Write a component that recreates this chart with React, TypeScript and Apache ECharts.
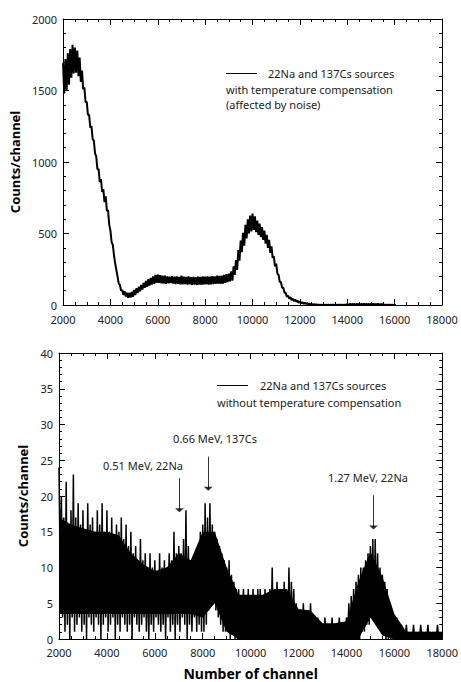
import React, { useEffect, useRef } from "react";
import * as echarts from "echarts";

// Channel sampling
const CH_START = 2000;
const CH_STEP = 100;
const CORE_STEP = 500;

// Upper chart: spectrum with temperature compensation (upper / lower noise envelope)
const TOP_HI = [
  1690, 1720, 1760, 1790, 1820, 1800, 1780, 1730, 1640, 1520,
  1420, 1330, 1250, 1150, 1040, 950, 880, 810, 760, 660,
  520, 420, 290, 200, 140, 105, 95, 85, 85, 92,
  105, 118, 128, 140, 155, 168, 180, 190, 200, 210,
  212, 208, 205, 205, 200, 198, 202, 198, 200, 196,
  205, 198, 196, 200, 195, 197, 195, 198, 196, 200,
  198, 200, 198, 202, 200, 205, 203, 206, 210, 215,
  220, 235, 270, 315, 385, 450, 505, 560, 600, 625,
  640, 620, 590, 570, 545, 520, 490, 455, 410, 340,
  290, 210, 160, 120, 85, 65, 55, 45, 38, 32,
  25, 20, 16, 14, 10, 8, 6, 4, 3, 2,
  2, 3, 2, 2, 3, 2, 2, 3, 2, 3,
  6, 8, 7, 8, 9, 7, 8, 9, 8, 7,
  8, 9, 7, 8, 6, 7, 3, 2, 2, 1,
  1,
];
const TOP_LO = [
  1480, 1500, 1540, 1590, 1620, 1625, 1600, 1560, 1510, 1420,
  1330, 1240, 1160, 1060, 950, 860, 790, 720, 660, 560,
  440, 350, 245, 150, 100, 70, 60, 50, 52, 58,
  70, 84, 95, 108, 120, 128, 135, 142, 148, 155,
  155, 152, 150, 148, 152, 154, 150, 146, 148, 145,
  145, 146, 142, 145, 140, 142, 140, 143, 141, 144,
  145, 143, 145, 146, 148, 150, 148, 150, 155, 160,
  165, 170, 210, 245, 310, 370, 415, 465, 500, 515,
  525, 510, 490, 475, 455, 430, 400, 365, 330, 270,
  220, 160, 120, 85, 58, 45, 35, 28, 22, 16,
  12, 8, 6, 4, 2, 0, 0, 0, 0, 0,
  0, 0, 0, 0, 0, 0, 0, 0, 0, 0,
  0, 2, 3, 2, 3, 3, 2, 3, 3, 2,
  3, 2, 3, 2, 2, 0, 0, 0, 0, 0,
  0,
];

// Lower chart: spectrum without temperature compensation (spike maxima / minima per 100 channels)
const BOT_HI = [
  24, 20, 17, 22, 16, 18, 23, 17, 19, 16,
  18, 15, 19, 16, 17, 15, 18, 16, 19, 15,
  18, 15, 17, 14, 16, 15, 17, 14, 16, 13,
  15, 12, 13, 11, 14, 11, 12, 10, 12, 10,
  11, 9, 12, 10, 11, 10, 12, 11, 15, 12,
  13, 12, 14, 18, 13, 11, 10, 11, 13, 15,
  16, 19, 17, 19, 16, 15, 14, 13, 12, 11,
  10, 11, 9, 8, 7, 7, 6, 7, 6, 7,
  6, 7, 6, 7, 7, 6, 7, 6, 7, 10,
  7, 8, 7, 7, 8, 7, 10, 8, 7, 5,
  4, 4, 5, 4, 4, 5, 3, 3, 3, 2,
  2, 3, 2, 2, 3, 2, 2, 3, 2, 2,
  3, 5, 6, 7, 8, 9, 10, 10, 11, 12,
  13, 14, 14, 12, 10, 9, 8, 7, 5, 4,
  3, 3, 2, 2, 1, 2, 1, 1, 2, 1,
  1, 2, 1, 1, 2, 1, 1, 1, 2, 1,
];
const BOT_LO = [
  9, 3, 1, 2, 0, 3, 1, 2, 3, 1,
  2, 0, 3, 2, 1, 3, 2, 0, 2, 3,
  1, 2, 3, 0, 2, 1, 3, 2, 1, 2,
  0, 3, 2, 1, 2, 3, 1, 0, 2, 1,
  3, 2, 1, 2, 0, 3, 1, 2, 0, 2,
  1, 3, 2, 0, 2, 1, 3, 1, 2, 1,
  1, 2, 4, 5, 6, 4, 3, 2, 1, 1,
  1, 0, 1, 0, 0, 0, 0, 0, 0, 0,
  0, 0, 0, 0, 0, 0, 0, 0, 0, 0,
  0, 0, 0, 0, 0, 0, 0, 0, 0, 0,
  0, 0, 0, 0, 0, 0, 0, 0, 0, 0,
  0, 0, 0, 0, 0, 0, 0, 0, 0, 0,
  0, 0, 0, 0, 0, 0, 1, 1, 2, 2,
  3, 3, 3, 2, 1, 1, 0, 0, 0, 0,
  0, 0, 0, 0, 0, 0, 0, 0, 0, 0,
  0, 0, 0, 0, 0, 0, 0, 0, 0, 0,
];
// Dense (solid) core of the lower spectrum, every 500 channels from 2000 to 18000
const BOT_CORE_HI = [
  17, 16, 15.5, 15, 15, 14.5, 12, 10.5, 9.5, 10,
  12, 11, 15, 15, 10, 6.2, 6.2, 6.2, 7, 7,
  4.2, 4, 2.2, 2.2, 2.5, 8, 12.2, 8.7, 3.5, 1,
  1, 1, 1,
];
const BOT_CORE_LO = [
  3.5, 3.5, 3.5, 3.5, 3.5, 3.5, 3.5, 3.5, 3.5, 3.5,
  3.5, 3.5, 3, 5, 1, 0, 0, 0, 0, 0,
  0, 0, 0, 0, 0, 0, 3, 0.5, 0, 0,
  0, 0, 0,
];

// Peak annotations (lower chart)
const PEAK_LABELS = ["0.51 MeV, 22Na", "0.66 MeV, 137Cs", "1.27 MeV, 22Na"];
const ARROW_CH = [7030, 8230, 15130];
const ARROW_FROM = [22.5, 25.5, 20.1];
const ARROW_TO = [18.0, 21.0, 15.6];

const TOP_LEGEND = ["22Na and 137Cs sources", "with temperature compensation", "(affected by noise)"];
const BOT_LEGEND = ["22Na and 137Cs sources", "without temperature compensation"];

const X_TITLE = "Number of channel";
const Y_TITLE = "Counts/channel";

function zigzag(hi: number[], lo: number[]) {
  const out: number[][] = [];
  hi.forEach((h, i) => {
    const ch = CH_START + i * CH_STEP;
    out.push([ch, h]);
    out.push([ch + CH_STEP / 2, lo[i]]);
  });
  return out;
}

const FONT = "Noto Sans";
const INK = "#000";
const TXT = "#222";
const plain = (v: number) => String(v);

function xAxes(gridIndex: number, labelMargin: number, withName: boolean) {
  const common = {
    gridIndex,
    type: "value",
    min: 2000,
    max: 18000,
    interval: 2000,
    z: 10,
    splitLine: { show: false },
    axisLine: { show: true, onZero: false, lineStyle: { color: INK, width: 1 } },
    axisTick: { show: true, inside: true, length: 6, lineStyle: { color: INK } },
    minorTick: { show: true, splitNumber: 4, length: 3, lineStyle: { color: INK } },
  };
  return [
    {
      ...common,
      position: "bottom",
      axisLabel: { show: true, fontSize: 11, color: TXT, fontFamily: FONT, margin: labelMargin, formatter: plain },
      ...(withName
        ? {
            name: X_TITLE,
            nameLocation: "middle",
            nameGap: 27,
            nameTextStyle: { fontSize: 14, fontWeight: "bold", color: INK, fontFamily: FONT },
          }
        : {}),
    },
    { ...common, position: "top", axisLabel: { show: false } },
  ];
}

function yAxes(gridIndex: number, max: number, interval: number, nameGap: number) {
  const common = {
    gridIndex,
    type: "value",
    min: 0,
    max,
    interval,
    z: 10,
    splitLine: { show: false },
    axisLine: { show: true, onZero: false, lineStyle: { color: INK, width: 1 } },
    axisTick: { show: true, inside: true, length: 6, lineStyle: { color: INK } },
    minorTick: { show: true, splitNumber: 5, length: 3, lineStyle: { color: INK } },
  };
  return [
    {
      ...common,
      position: "left",
      axisLabel: { show: true, fontSize: 11, color: TXT, fontFamily: FONT, margin: 6, formatter: plain },
      name: Y_TITLE,
      nameLocation: "middle",
      nameGap,
      nameTextStyle: { fontSize: 13, fontWeight: "bold", color: INK, fontFamily: FONT },
    },
    { ...common, position: "right", axisLabel: { show: false } },
  ];
}

function txt(text: string, x: number, y: number, align = "left") {
  return {
    type: "text",
    x,
    y,
    style: { text, fill: TXT, font: `11px '${FONT}'`, textAlign: align, textVerticalAlign: "middle" },
  };
}

export default function App() {
  const ref = useRef<HTMLDivElement>(null);
  useEffect(() => {
    if (!ref.current) return;
    const chart = echarts.init(ref.current, undefined, { renderer: "svg" });
    const coreCh = BOT_CORE_HI.map((_, i) => CH_START + i * CORE_STEP);
    const option: any = {
      animation: false,
      backgroundColor: "#fff",
      textStyle: { fontFamily: FONT },
      grid: [
        { left: 61, top: 19, width: 381, height: 286 },
        { left: 59, top: 353, width: 388, height: 286 },
      ],
      xAxis: [...xAxes(0, 9, false), ...xAxes(1, 8, true)],
      yAxis: [...yAxes(0, 2000, 500, 37), ...yAxes(1, 40, 5, 16)],
      series: [
        {
          type: "line",
          xAxisIndex: 0,
          yAxisIndex: 0,
          data: zigzag(TOP_HI, TOP_LO),
          showSymbol: false,
          symbol: "none",
          silent: true,
          lineStyle: { color: INK, width: 2 },
        },
        {
          type: "custom",
          xAxisIndex: 2,
          yAxisIndex: 2,
          z: 2,
          silent: true,
          data: [[CH_START, 0]],
          renderItem: (_params: any, api: any) => {
            const upper = coreCh.map((c, i) => api.coord([c, BOT_CORE_HI[i]]));
            const lower = coreCh.map((c, i) => api.coord([c, BOT_CORE_LO[i]])).reverse();
            return {
              type: "polygon",
              shape: { points: upper.concat(lower) },
              style: { fill: INK, stroke: "none" },
            };
          },
        },
        {
          type: "line",
          xAxisIndex: 2,
          yAxisIndex: 2,
          z: 4,
          data: zigzag(BOT_HI, BOT_LO),
          showSymbol: false,
          symbol: "none",
          silent: true,
          lineStyle: { color: INK, width: 1.5 },
        },
        {
          type: "scatter",
          xAxisIndex: 2,
          yAxisIndex: 2,
          z: 5,
          data: ARROW_CH.map((c, i) => [c, ARROW_TO[i]]),
          symbol: "triangle",
          symbolRotate: 180,
          symbolSize: [9, 4],
          itemStyle: { color: INK },
          silent: true,
          markLine: {
            silent: true,
            symbol: ["none", "none"],
            label: { show: false },
            lineStyle: { color: "#333", width: 1, type: "solid" },
            data: ARROW_CH.map((c, i) => [
              { coord: [c, ARROW_FROM[i]] },
              { coord: [c, ARROW_TO[i]] },
            ]),
          },
        },
      ],
      graphic: [
        { type: "line", shape: { x1: 226, y1: 73.5, x2: 257, y2: 73.5 }, style: { stroke: INK, lineWidth: 1 } },
        txt(TOP_LEGEND[0], 268, 73),
        txt(TOP_LEGEND[1], 226, 89),
        txt(TOP_LEGEND[2], 226, 104),
        { type: "line", shape: { x1: 217, y1: 385.5, x2: 248, y2: 385.5 }, style: { stroke: INK, lineWidth: 1 } },
        txt(BOT_LEGEND[0], 260, 385),
        txt(BOT_LEGEND[1], 217, 402),
        txt(PEAK_LABELS[0], 143, 465, "center"),
        txt(PEAK_LABELS[1], 215, 438, "center"),
        txt(PEAK_LABELS[2], 368, 477, "center"),
      ],
    };
    chart.setOption(option);
    return () => chart.dispose();
  }, []);
  return (
    <div
      ref={ref}
      style={{ position: "absolute", left: 0, top: 0, width: 461, height: 682, background: "#fff" }}
    />
  );
}
